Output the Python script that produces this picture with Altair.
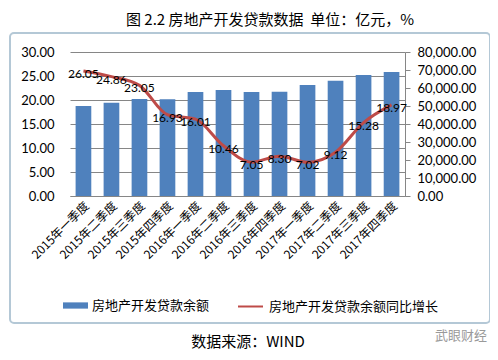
import altair as alt
import pandas as pd

quarters = ["2015年一季度", "2015年二季度", "2015年三季度", "2015年四季度",
            "2016年一季度", "2016年二季度", "2016年三季度", "2016年四季度",
            "2017年一季度", "2017年二季度", "2017年三季度", "2017年四季度"]
balance = [50000, 51800, 53900, 53700, 57800, 58900, 57800, 57900, 61700, 64000, 67200, 68900]
growth = [26.05, 24.86, 23.05, 16.93, 16.01, 10.46, 7.05, 8.30, 7.02, 9.12, 15.28, 18.97]
left_ticks = [0, 5, 10, 15, 20, 25, 30]
right_ticks = [0, 10000, 20000, 30000, 40000, 50000, 60000, 70000, 80000]
bar_name = "房地产开发贷款余额"
line_name = "房地产开发贷款余额同比增长"
title_text = "图 2.2 房地产开发贷款数据\u00a0\u00a0单位：亿元，%"
source_text = "数据来源：WIND"
watermark_text = "武眼财经"

CJK = "Noto Sans CJK SC"
NUM = "Lato"

df = pd.DataFrame({
    "quarter": quarters,
    "balance": balance,
    "growth": growth,
    "s1": [bar_name] * len(quarters),
    "s2": [line_name] * len(quarters),
})

x_enc = alt.X("quarter:N", sort=quarters,
              scale=alt.Scale(paddingInner=0.44, paddingOuter=0.2),
              axis=alt.Axis(title=None, labelAngle=-45, labelFont=CJK, labelFontSize=12,
                            labelColor="black", ticks=False, domainColor="#868686",
                            labelPadding=4))

bars = alt.Chart(df).mark_bar(color="#4F81BD").encode(
    x=x_enc,
    y=alt.Y("balance:Q", scale=alt.Scale(domain=[0, 80000]),
            axis=alt.Axis(orient="right", values=right_ticks, format=",.2f", grid=False,
                          domain=True, domainColor="#868686", ticks=True, tickColor="#868686",
                          tickSize=5, labelPadding=7, title=None, labelFont=NUM,
                          labelFontSize=13, labelColor="black")),
    color=alt.Color("s1:N", scale=alt.Scale(domain=[bar_name], range=["#4F81BD"]),
                    legend=alt.Legend(orient="none", legendX=-7, legendY=241, title=None,
                                      symbolType="M-1,-0.25L1,-0.25L1,0.25L-1,0.25Z",
                                      symbolSize=625, symbolStrokeWidth=0, symbolOpacity=1,
                                      labelFont=CJK, labelFontSize=13, labelColor="black",
                                      labelLimit=400, padding=0, labelOffset=4)),
)

y_left = alt.Y("growth:Q", scale=alt.Scale(domain=[0, 30]),
               axis=alt.Axis(orient="left", values=left_ticks, format=".2f", grid=True,
                             gridColor="#868686", domain=False, ticks=False, labelPadding=16,
                             title=None, labelFont=NUM, labelFontSize=13, labelColor="black"))

line = alt.Chart(df).mark_line(interpolate="monotone", strokeWidth=3).encode(
    x=x_enc,
    y=y_left,
    color=alt.Color("s2:N", scale=alt.Scale(domain=[line_name], range=["#BE4B48"]),
                    legend=alt.Legend(orient="none", legendX=167, legendY=241, title=None,
                                      symbolType="stroke", symbolSize=625,
                                      symbolStrokeWidth=2, labelFont=CJK, labelFontSize=13,
                                      labelColor="black", labelLimit=400, padding=0,
                                      labelOffset=5)),
)

labels = alt.Chart(df).mark_text(dy=3, fontSize=12, font=NUM, color="black").encode(
    x=x_enc,
    y=y_left,
    text=alt.Text("growth:Q", format=".2f"),
)

deco_title = alt.Chart(pd.DataFrame({"t": [title_text]})).mark_text(
    font=CJK, fontSize=15, color="black", align="center", baseline="middle"
).encode(text="t:N", x=alt.value(200), y=alt.value(-32))

deco_source = alt.Chart(pd.DataFrame({"t": [source_text]})).mark_text(
    font=CJK, fontSize=15, color="black", align="center", baseline="middle"
).encode(text="t:N", x=alt.value(178), y=alt.value(290))

deco_wm = alt.Chart(pd.DataFrame({"t": [watermark_text]})).mark_text(
    font=CJK, fontSize=13, color="#9a9a9a", align="left", baseline="middle"
).encode(text="t:N", x=alt.value(365), y=alt.value(284))

deco_frame = alt.Chart(pd.DataFrame({"t": [0]})).mark_rect(
    fillOpacity=0, stroke="#B4C8D6", strokeWidth=2, cornerRadius=4
).encode(x=alt.value(-60), x2=alt.value(420), y=alt.value(-19), y2=alt.value(271))

inner = alt.layer(line, labels, deco_title, deco_source, deco_wm, deco_frame)

chart = alt.layer(bars, inner).resolve_scale(y="independent", color="independent").properties(
    width=335, height=144,
    padding={"left": 62, "top": 44, "right": 85, "bottom": 156},
    autosize=alt.AutoSizeParams(type="none"),
    background="white",
).configure_view(stroke=None)

chart.save("out.html", embed_options={"renderer": "svg", "actions": False})
